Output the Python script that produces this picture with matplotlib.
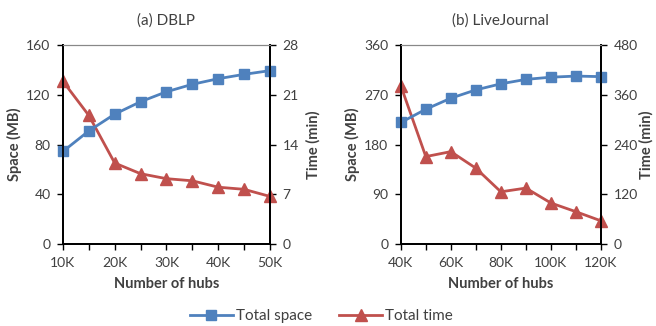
import matplotlib
matplotlib.use("Agg")
import matplotlib.pyplot as plt
from matplotlib.lines import Line2D

plt.rcParams['font.family'] = ['Lato', 'DejaVu Sans']

########################################################################
# Data

dblp_hubs = [10, 15, 20, 25, 30, 35, 40, 45, 50]
dblp_space = [74.5, 91, 104.5, 114.5, 122.5, 128.5, 133, 136.5, 139.5]
dblp_time = [22.9, 18.1, 11.4, 9.9, 9.2, 8.9, 8.0, 7.7, 6.7]

lj_hubs = [40, 50, 60, 70, 80, 90, 100, 110, 120]
lj_space = [220, 244, 264, 279, 290, 298, 302, 304, 303]
lj_time = [382, 211, 223, 183, 126, 135, 99, 78, 56]

blue = "#4F81BD"
red = "#C0504D"
txt = "#404040"

########################################################################
# Draw

fig = plt.figure(figsize=(6.56, 3.26), dpi=100)

panels = [
    ([0.096, 0.2515, 0.3155, 0.610], "(a) DBLP", dblp_hubs, dblp_space, dblp_time,
     (0, 160, 40), (0, 28, 7), (10, 50), 5, 10, 5),
    ([0.611, 0.2515, 0.305, 0.610], "(b) LiveJournal", lj_hubs, lj_space, lj_time,
     (0, 360, 90), (0, 480, 120), (40, 120), 10, 20, 1),
]

for rect, title, hubs, space, time, ylim1, ylim2, xlim, minor, major, rpad in panels:
    ax = fig.add_axes(rect)
    ax2 = ax.twinx()
    ax.set_zorder(ax2.get_zorder() + 1)
    ax.patch.set_visible(False)

    ax2.plot(hubs, time, color=red, lw=2.0, marker="^", ms=8, mec=red, clip_on=False)
    ax.plot(hubs, space, color=blue, lw=2.0, marker="s", ms=7, mec=blue, clip_on=False)

    ax.set_xlim(*xlim)
    ax.set_ylim(ylim1[0], ylim1[1])
    ax.set_yticks(range(ylim1[0], ylim1[1] + 1, ylim1[2]))
    ax2.set_ylim(ylim2[0], ylim2[1])
    ax2.set_yticks(range(ylim2[0], ylim2[1] + 1, ylim2[2]))
    ax.set_xticks(range(xlim[0], xlim[1] + 1, minor), minor=True)
    ax.set_xticks(range(xlim[0], xlim[1] + 1, major))
    ax.set_xticklabels([f"{v}K" for v in range(xlim[0], xlim[1] + 1, major)])

    for a in (ax, ax2):
        a.tick_params(axis="both", which="both", direction="out", length=4,
                      width=1, colors="black", labelcolor=txt, labelsize=10, pad=5)
        for s in ("left", "right", "bottom"):
            a.spines[s].set_linewidth(1.3)
        a.spines["top"].set_color("#888888")
        a.spines["top"].set_linewidth(0.8)

    ax.set_title(title, fontsize=11, color=txt, pad=15)
    ax.set_xlabel("Number of hubs", fontsize=10.5, fontweight="bold", color=txt, labelpad=6)
    ax.set_ylabel("Space (MB)", fontsize=10.5, fontweight="bold", color=txt, labelpad=3)
    ax2.set_ylabel("Time (min)", fontsize=10.5, fontweight="bold", color=txt, labelpad=rpad)

handles = [
    Line2D([], [], color=blue, lw=2.0, marker="s", ms=7),
    Line2D([], [], color=red, lw=2.0, marker="^", ms=8),
]
fig.legend(handles, ["Total space", "Total time"], loc="center", bbox_to_anchor=(0.49, 0.03),
           ncol=2, frameon=False, fontsize=11, handlelength=2.8, columnspacing=1.8,
           handletextpad=0.2, labelcolor=txt)

fig.savefig("out.png", dpi=100)
